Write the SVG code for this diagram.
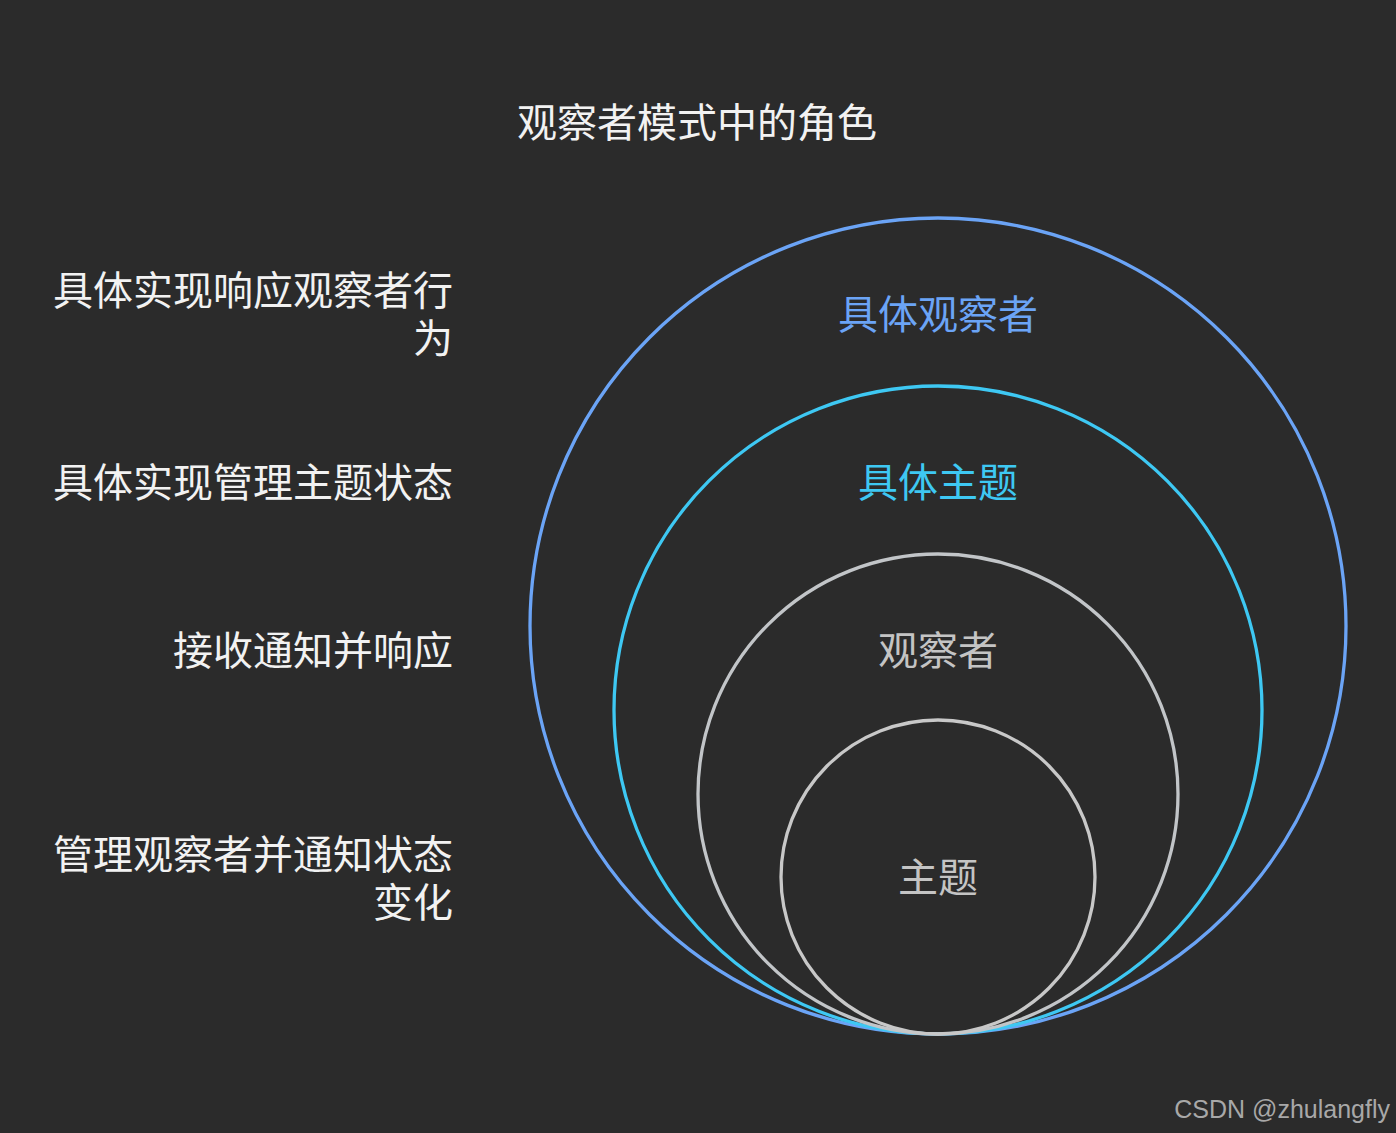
<svg xmlns="http://www.w3.org/2000/svg" width="1396" height="1133" viewBox="0 0 1396 1133">
<style>
text{font-family:"Noto Sans CJK SC","Noto Sans",sans-serif;font-size:40px}
.lbl{fill:#f2f2f2;text-anchor:end}
.c{fill:none;stroke-width:3.3}
.mid{text-anchor:middle}
</style>
<rect width="1396" height="1133" fill="#2b2b2b"/>
<text x="697" y="137" class="mid" fill="#f2f2f2">观察者模式中的角色</text>
<g id="labels">
<text class="lbl" x="453" y="305">具体实现响应观察者行<tspan x="453" dy="48">为</tspan></text>
<text class="lbl" x="453" y="497">具体实现管理主题状态</text>
<text class="lbl" x="453" y="665">接收通知并响应</text>
<text class="lbl" x="453" y="869">管理观察者并通知状态<tspan x="453" dy="48">变化</tspan></text>
</g>
<g id="concrete-observer">
<circle class="c" cx="938" cy="626" r="408" stroke="#6ba4f6"/>
<text class="mid" x="938" y="329" fill="#6ba4f6">具体观察者</text>
</g>
<g id="concrete-subject">
<circle class="c" cx="938" cy="710" r="324" stroke="#3ec8f3"/>
<text class="mid" x="938" y="497" fill="#3ec8f3">具体主题</text>
</g>
<g id="observer">
<circle class="c" cx="938" cy="794" r="240" stroke="#c2c5c8"/>
<text class="mid" x="938" y="665" fill="#c4c4c4">观察者</text>
</g>
<g id="subject">
<circle class="c" cx="938" cy="877" r="157" stroke="#c8c8c8"/>
<text class="mid" x="938" y="892" fill="#c4c4c4">主题</text>
</g>
<text x="1390" y="1118" style="font-family:'Liberation Sans',sans-serif;font-size:25px;fill:#a8a8a8;text-anchor:end">CSDN @zhulangfly</text>
</svg>
